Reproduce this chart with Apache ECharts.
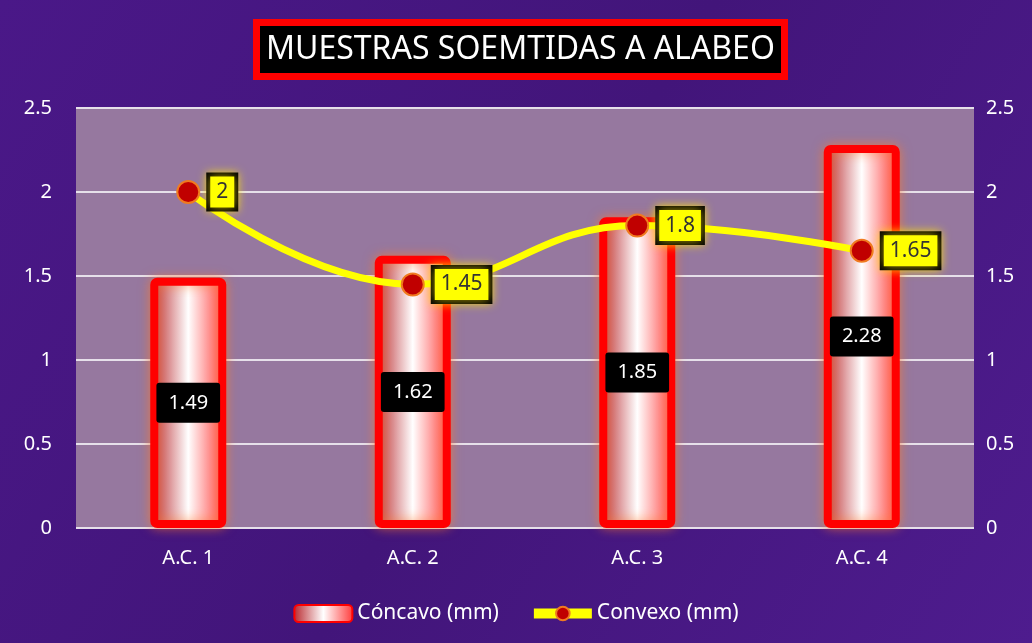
<!DOCTYPE html>
<html><head><meta charset="utf-8">
<script src="https://cdn.jsdelivr.net/npm/echarts@6/dist/echarts.min.js"></script>
<style>html,body{margin:0;padding:0;background:#4a1c8a}#c{width:1032px;height:643px}</style>
</head><body><div id="c"></div>
<script>
const categories = ['A.C. 1', 'A.C. 2', 'A.C. 3', 'A.C. 4'];
const concavo = [1.49, 1.62, 1.85, 2.28];
const convexo = [2, 1.45, 1.8, 1.65];
const yTicks = [0, 0.5, 1, 1.5, 2, 2.5];
const seriesNames = ['Cóncavo (mm)', 'Convexo (mm)'];
const titleText = 'MUESTRAS SOEMTIDAS A ALABEO';

const FONT = 'Noto Sans';
const chart = echarts.init(document.getElementById('c'));
const barGrad = new echarts.graphic.LinearGradient(0, 0, 1, 0, [
  {offset: 0, color: '#b8262c'},
  {offset: 0.5, color: '#ffffff'},
  {offset: 1, color: '#ff3a3a'}
]);
const yAxisBase = {
  type: 'value', min: yTicks[0], max: yTicks[yTicks.length-1], interval: 0.5,
  axisLine: {show: false}, axisTick: {show: false},
  axisLabel: {color: '#ffffff', fontSize: 20, fontFamily: FONT}
};
chart.setOption({
  backgroundColor: new echarts.graphic.LinearGradient(0, 0, 1, 1, [
    {offset: 0, color: '#4a1888'}, {offset: 0.5, color: '#42157a'}, {offset: 1, color: '#4e1c8e'}
  ]),
  title: {
    text: titleText, left: 256, top: 22,
    backgroundColor: '#000000', borderColor: '#ff0000', borderWidth: 7,
    padding: [12, 10, 11, 10],
    textStyle: {color: '#ffffff', fontSize: 32, fontWeight: 'normal', fontFamily: FONT}
  },
  grid: {left: 76, right: 58, top: 108, bottom: 115, show: true,
    backgroundColor: '#96789f', borderWidth: 0},
  legend: {
    bottom: 14, left: 'center', itemWidth: 58, itemHeight: 17, itemGap: 30,
    textStyle: {color: '#ffffff', fontSize: 21, fontFamily: FONT},
    data: [
      {name: seriesNames[0]},
      {name: seriesNames[1], lineStyle: {width: 10, color: '#ffff00'}, itemStyle: {color: '#c00000', borderColor: '#f07a20', borderWidth: 2}}
    ]
  },
  xAxis: {
    type: 'category', data: categories,
    axisLine: {show: false}, axisTick: {show: false},
    axisLabel: {color: '#ffffff', fontSize: 20, fontFamily: FONT, margin: 20}
  },
  yAxis: [
    Object.assign({}, yAxisBase, {position: 'left',
      splitLine: {show: true, lineStyle: {color: '#e6e0ea', width: 2}},
      axisLabel: Object.assign({}, yAxisBase.axisLabel, {margin: 24})}),
    Object.assign({}, yAxisBase, {position: 'right', splitLine: {show: false},
      axisLabel: Object.assign({}, yAxisBase.axisLabel, {margin: 12})})
  ],
  series: [
    {
      name: seriesNames[0], type: 'bar', data: concavo, barWidth: 76, yAxisIndex: 0,
      itemStyle: {color: barGrad, borderColor: '#ff0000', borderWidth: 8,
        borderRadius: 3, shadowColor: 'rgba(255,120,40,0.6)', shadowBlur: 12},
      label: {show: true, position: 'inside', color: '#ffffff', fontSize: 20, fontFamily: FONT,
        backgroundColor: '#000000', borderRadius: 3, padding: [11, 12, 9, 12]}
    },
    {
      name: seriesNames[1], type: 'line', data: convexo, yAxisIndex: 1, smooth: 0.45,
      symbol: 'circle', symbolSize: 22,
      lineStyle: {color: '#ffff00', width: 7},
      itemStyle: {color: '#c00000', borderColor: '#f07a20', borderWidth: 2},
      label: {show: true, position: 'right', distance: 10, color: '#333333', fontSize: 21, fontFamily: FONT,
        backgroundColor: '#ffff00', borderColor: '#000000', borderWidth: 4,
        padding: [6, 6, 4, 6], shadowColor: 'rgba(255,230,0,0.7)', shadowBlur: 10},
      z: 5
    }
  ]
});
</script></body></html>
